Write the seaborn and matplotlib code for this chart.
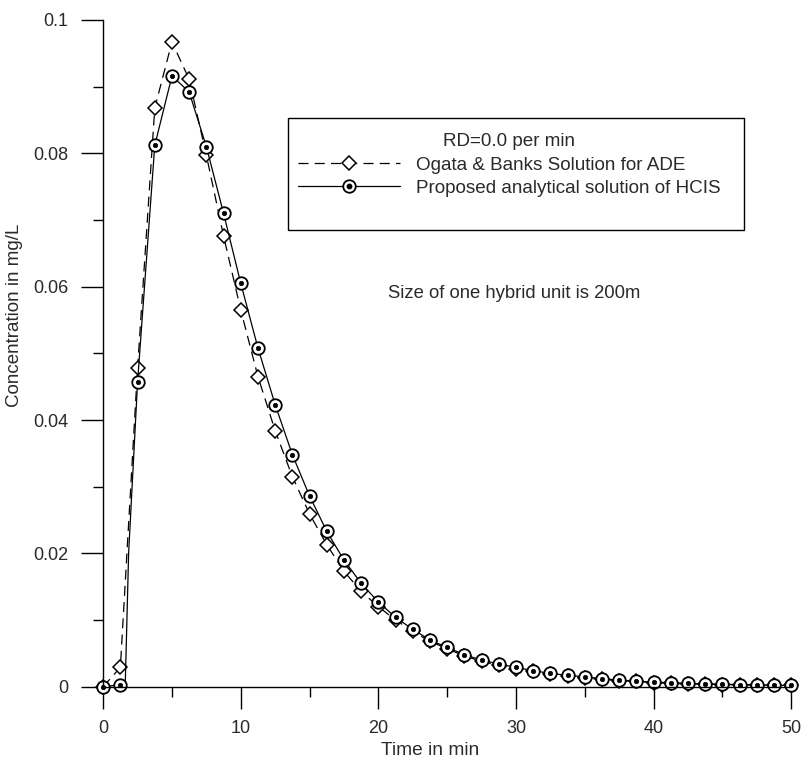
import numpy as np
import pandas as pd
import matplotlib
matplotlib.use("Agg")
import matplotlib.pyplot as plt
from matplotlib.lines import Line2D
from matplotlib.patches import Rectangle
from matplotlib.legend_handler import HandlerTuple
import seaborn as sns

# ---- data ----
time_min = [0, 1.25, 2.5, 3.75, 5, 6.25, 7.5, 8.75, 10, 11.25, 12.5, 13.75, 15, 16.25,
            17.5, 18.75, 20, 21.25, 22.5, 23.75, 25, 26.25, 27.5, 28.75, 30, 31.25,
            32.5, 33.75, 35, 36.25, 37.5, 38.75, 40, 41.25, 42.5, 43.75, 45, 46.25,
            47.5, 48.75, 50]
ogata = [0.0, 0.0029, 0.0478, 0.0868, 0.0967, 0.0911, 0.0797, 0.0676, 0.0565, 0.0465,
         0.0384, 0.0315, 0.0259, 0.0213, 0.0173, 0.0143, 0.0120, 0.0100, 0.0083, 0.0068,
         0.0057, 0.0046, 0.0038, 0.0032, 0.0027, 0.0023, 0.0019, 0.0016, 0.0013, 0.0011,
         0.0009, 0.0008, 0.0006, 0.0005, 0.0004, 0.0004, 0.0003, 0.0003, 0.0002, 0.0002,
         0.0002]
hcis = [0.0, 0.0003, 0.0457, 0.0812, 0.0916, 0.0892, 0.0810, 0.0710, 0.0605, 0.0508,
        0.0423, 0.0348, 0.0286, 0.0233, 0.0190, 0.0155, 0.0127, 0.0104, 0.0086, 0.0070,
        0.0059, 0.0048, 0.0040, 0.0034, 0.0029, 0.0024, 0.0020, 0.0017, 0.0015, 0.0012,
        0.0010, 0.0008, 0.0007, 0.0006, 0.0005, 0.0004, 0.0004, 0.0003, 0.0003, 0.0002,
        0.0002]
# extra points of the solid curve read where it leaves the axis
hcis_curve_extra_t = [1.6, 1.85]
hcis_curve_extra_c = [0.0, 0.020]

x_ticks = [0, 10, 20, 30, 40, 50]
y_ticks = [0, 0.02, 0.04, 0.06, 0.08, 0.1]
y_tick_labels = ["0", "0.02", "0.04", "0.06", "0.08", "0.1"]

legend_title = "RD=0.0 per min"
label_ogata = "Ogata & Banks Solution for ADE"
label_hcis = "Proposed analytical solution of HCIS"
note_text = "Size of one hybrid unit is 200m"

# ---- styling ----
sns.set_theme(style="ticks")
plt.rcParams["font.family"] = ["Liberation Sans", "DejaVu Sans"]
FS = 13
TXT = "#2a2a2a"

df_o = pd.DataFrame({"t": time_min, "c": ogata})
df_h = pd.DataFrame({"t": time_min, "c": hcis})
df_hc = pd.DataFrame({"t": time_min + hcis_curve_extra_t,
                      "c": hcis + hcis_curve_extra_c}).sort_values("t")

fig = plt.figure(figsize=(8.06, 7.63), dpi=100)
ax = fig.add_axes([0.128, 0.100, 0.8536, 0.8738])

dash = (0, (8, 5))
# Ogata & Banks: dashed line with open diamonds
sns.lineplot(data=df_o, x="t", y="c", ax=ax, color="black", lw=0.9, linestyle=dash,
             marker="D", markersize=7, markerfacecolor="white", markeredgecolor="black",
             markeredgewidth=1.1, clip_on=False, sort=True, estimator=None)
# Proposed HCIS: solid curve
sns.lineplot(data=df_hc, x="t", y="c", ax=ax, color="black", lw=0.9, clip_on=False,
             sort=True, estimator=None)
# Proposed HCIS markers: open circles with centre dot
sns.lineplot(data=df_h, x="t", y="c", ax=ax, color="black", linestyle="none",
             marker="o", markersize=9, markerfacecolor="white", markeredgecolor="black",
             markeredgewidth=1.3, clip_on=False, estimator=None)
sns.lineplot(data=df_h, x="t", y="c", ax=ax, color="black", linestyle="none",
             marker="o", markersize=3.2, markerfacecolor="black", markeredgecolor="black",
             markeredgewidth=0.5, clip_on=False, estimator=None)

ax.set_xlim(0, 50)
ax.set_ylim(0, 0.1)
ax.set_xticks(x_ticks)
ax.set_xticks([5, 15, 25, 35, 45], minor=True)
ax.set_yticks(y_ticks)
ax.set_yticklabels(y_tick_labels)
ax.set_yticks([0.01, 0.03, 0.05, 0.07, 0.09], minor=True)

for s in ["top", "right"]:
    ax.spines[s].set_visible(False)
for s in ["left", "bottom"]:
    ax.spines[s].set_linewidth(1.0)
    ax.spines[s].set_color("black")

ax.tick_params(axis="x", which="major", direction="out", length=16, width=1.0,
               color="black", labelsize=FS, labelcolor=TXT, pad=8)
ax.tick_params(axis="y", which="major", direction="out", length=16, width=1.0,
               color="black", labelsize=FS, labelcolor=TXT, pad=9)
ax.tick_params(axis="both", which="minor", direction="out", length=7, width=1.0,
               color="black")

ax.set_xlabel("Time in min", fontsize=13.8, color=TXT)
ax.set_ylabel("Concentration in mg/L", fontsize=13.5, color=TXT)
ax.xaxis.set_label_coords(0.475, -0.083)
ax.yaxis.set_label_coords(-0.116, 0.557)

# legend
h_o = Line2D([], [], color="black", lw=0.9, linestyle=dash, marker="D", markersize=7,
             markerfacecolor="white", markeredgecolor="black", markeredgewidth=1.1)
h_h1 = Line2D([], [], color="black", lw=0.9, marker="o", markersize=9,
              markerfacecolor="white", markeredgecolor="black", markeredgewidth=1.3)
h_h2 = Line2D([], [], color="black", lw=0, marker="o", markersize=3.2,
              markerfacecolor="black", markeredgecolor="black")
leg = ax.legend([h_o, (h_h1, h_h2)], [label_ogata, label_hcis], title=legend_title,
                handler_map={tuple: HandlerTuple(ndivide=1, pad=0)},
                loc="upper left", bbox_to_anchor=(0.283, 0.830), frameon=False,
                borderpad=0, borderaxespad=0, handlelength=5.4, handletextpad=0.85,
                labelspacing=0.32, fontsize=13.6, title_fontsize=13.6, numpoints=1)
for t in leg.get_texts():
    t.set_color(TXT)
leg.get_title().set_color(TXT)

ax.add_patch(Rectangle((0.268, 0.685), 0.663, 0.168, transform=ax.transAxes,
                       fill=False, ec="black", lw=1.0, clip_on=False))

ax.text(0.598, 0.5905, note_text, transform=ax.transAxes, ha="center", va="center",
        fontsize=13.3, color=TXT)

fig.savefig("out.png", dpi=100)
